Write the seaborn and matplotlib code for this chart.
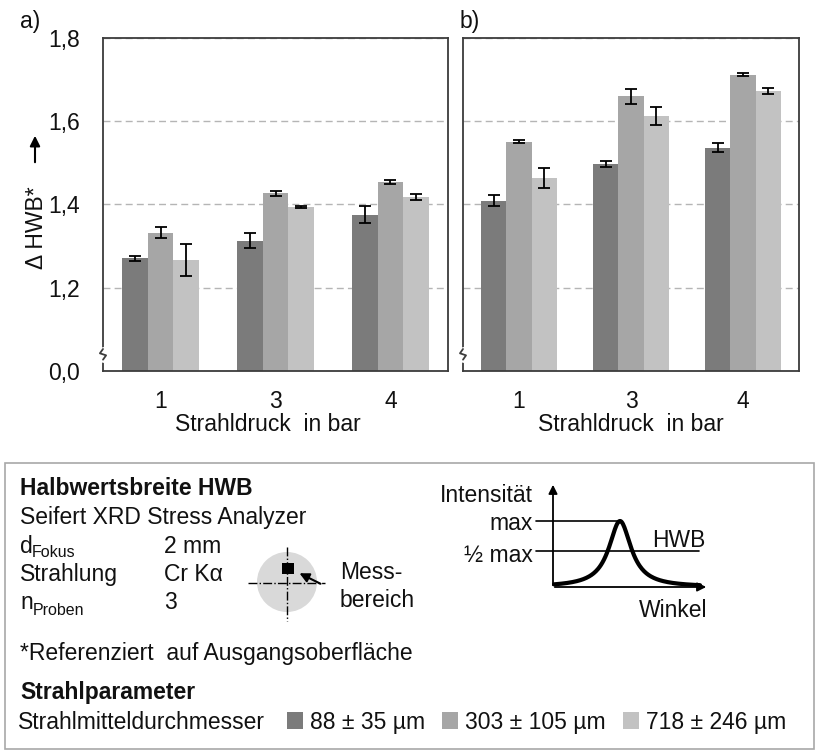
import numpy as np
import pandas as pd
import matplotlib
matplotlib.use("Agg")
import matplotlib.pyplot as plt
from matplotlib.patches import Rectangle, Circle
import seaborn as sns

# ---------------- data ----------------
pressures = ["1", "3", "4"]
diameters = ["88 ± 35 µm", "303 ± 105 µm", "718 ± 246 µm"]

a_88 = [1.270, 1.313, 1.375]
a_303 = [1.332, 1.426, 1.454]
a_718 = [1.266, 1.393, 1.418]
a_88_err = [0.007, 0.017, 0.020]
a_303_err = [0.0125, 0.0056, 0.005]
a_718_err = [0.038, 0.002, 0.0072]

b_88 = [1.408, 1.496, 1.536]
b_303 = [1.550, 1.659, 1.711]
b_718 = [1.463, 1.612, 1.671]
b_88_err = [0.013, 0.007, 0.011]
b_303_err = [0.003, 0.018, 0.004]
b_718_err = [0.024, 0.022, 0.007]

y_ticks = [1.0, 1.2, 1.4, 1.6, 1.8]
y_tick_labels = ["0,0", "1,2", "1,4", "1,6", "1,8"]

colors = ["#7b7b7b", "#a6a6a6", "#c2c2c2"]

# ---------------- style ----------------
sns.set_theme(style="white")
plt.rcParams["font.family"] = ["Liberation Sans", "DejaVu Sans"]
FS = 16.5
TXT = "#111111"
SPINE = "#3c3c3c"
W, H = 817, 752

fig = plt.figure(figsize=(W / 100, H / 100), dpi=100)

# overlay in pixel coordinates for annotations
ov = fig.add_axes([0, 0, 1, 1], zorder=0)
ov.set_xlim(0, W)
ov.set_ylim(H, 0)
ov.axis("off")


def px_axes(left, right, top, bottom):
    return [left / W, 1 - bottom / H, (right - left) / W, (bottom - top) / H]


def make_panel(rect, vals, errs, show_ylabels):
    ax = fig.add_axes(rect, zorder=2)
    rows = []
    for d, v in zip(diameters, vals):
        for p, val in zip(pressures, v):
            rows.append({"Strahldruck": p, "Durchmesser": d, "HWB": val})
    df = pd.DataFrame(rows)
    sns.barplot(data=df, x="Strahldruck", y="HWB", hue="Durchmesser",
                order=pressures, hue_order=diameters, palette=colors,
                width=0.67, errorbar=None, saturation=1, ax=ax,
                linewidth=0)
    for cont, v, e in zip(ax.containers, vals, errs):
        xs = [p.get_x() + p.get_width() / 2 for p in cont.patches]
        ax.errorbar(xs, v, yerr=e, fmt="none", ecolor="black",
                    elinewidth=1.3, capsize=4.5, capthick=1.3, zorder=4)
    ax.set_xlim(-0.5, 2.5)
    ax.set_ylim(1.0, 1.8)
    ax.set_yticks(y_ticks)
    if show_ylabels:
        ax.set_yticklabels(y_tick_labels)
    else:
        ax.set_yticklabels([])
    ax.tick_params(axis="y", length=0, pad=16.5, labelsize=FS, labelcolor=TXT)
    ax.tick_params(axis="x", length=0, pad=14, labelsize=FS, labelcolor=TXT)
    ax.set_axisbelow(True)
    ax.yaxis.grid(True, color="#b5b5b5", linestyle=(0, (5, 3)), linewidth=1)
    ax.xaxis.grid(False)
    for s in ax.spines.values():
        s.set_visible(True)
        s.set_color(SPINE)
        s.set_linewidth(1.3)
    ax.set_xlabel("Strahldruck  in bar", fontsize=FS, color=TXT)
    ax.xaxis.set_label_coords(0.5, -0.125)
    ax.set_ylabel("")
    # axis break mark
    ax.plot([0, 0], [0.034, 0.066], color="white", lw=3.5,
            transform=ax.transAxes, clip_on=False, zorder=5)
    ax.plot([0, -0.009, 0.009, 0], [0.066, 0.053, 0.047, 0.034], color=SPINE,
            lw=1.3, transform=ax.transAxes, clip_on=False, zorder=6)
    return ax


ax_a = make_panel(px_axes(103, 448, 37.5, 371), [a_88, a_303, a_718],
                  [a_88_err, a_303_err, a_718_err], True)
ax_b = make_panel(px_axes(463, 799, 37.5, 371), [b_88, b_303, b_718],
                  [b_88_err, b_303_err, b_718_err], False)
ax_a.xaxis.set_label_coords(0.478, -0.125)

ax_a.set_ylabel("Δ HWB*", fontsize=FS, color=TXT, va="center")
ax_a.yaxis.set_label_coords((36 - 103) / 345, (371 - 228) / 333.5)
# arrow of the y label
ov.annotate("", xy=(35, 133), xytext=(35, 165),
            arrowprops=dict(arrowstyle="-|>", color="black", lw=1.5, mutation_scale=15))

leg = ax_a.get_legend()
handles = leg.legend_handles
labels = [t.get_text() for t in leg.get_texts()]
leg.remove()
ax_b.get_legend().remove()

# panel letters
ov.text(20, 28, "a)", fontsize=FS, color=TXT, va="baseline")
ov.text(460, 28, "b)", fontsize=FS, color=TXT, va="baseline")

# ---------------- info box ----------------
ov.add_patch(Rectangle((5, 463), 809, 286, fill=False, edgecolor="#a8a8a8", lw=1.2))

ov.text(20, 495, "Halbwertsbreite HWB", fontsize=FS, fontweight="bold", color=TXT, va="baseline")
ov.text(20, 524, "Seifert XRD Stress Analyzer", fontsize=FS, color=TXT, va="baseline")
ov.text(20, 553, "d", fontsize=FS, color=TXT, va="baseline")
ov.text(32, 557, "Fokus", fontsize=11.5, color=TXT, va="baseline")
ov.text(164, 553, "2 mm", fontsize=FS, color=TXT, va="baseline")
ov.text(20, 581, "Strahlung", fontsize=FS, color=TXT, va="baseline")
ov.text(164, 581, "Cr Kα", fontsize=FS, color=TXT, va="baseline")
ov.text(20, 609, "n", fontsize=FS, color=TXT, va="baseline")
ov.text(33, 615, "Proben", fontsize=11.5, color=TXT, va="baseline")
ov.text(164, 609, "3", fontsize=FS, color=TXT, va="baseline")

# measurement spot sketch
ov.add_patch(Circle((287, 582), 30, facecolor="#d9d9d9", edgecolor="none"))
ov.plot([248, 325], [583, 583], color="black", lw=1, linestyle="-.")
ov.plot([287, 287], [547, 621], color="black", lw=1, linestyle="-.")
ov.add_patch(Rectangle((282, 563), 12, 11, facecolor="black", edgecolor="none"))
ov.annotate("", xy=(297, 572), xytext=(323, 585),
            arrowprops=dict(arrowstyle="-|>", color="black", lw=1.5, mutation_scale=14))
ov.text(340, 579, "Mess-", fontsize=FS, color=TXT, va="baseline")
ov.text(340, 607, "bereich", fontsize=FS, color=TXT, va="baseline")

# peak sketch
ov.annotate("", xy=(553, 482), xytext=(553, 588),
            arrowprops=dict(arrowstyle="-|>", color="black", lw=1.3, mutation_scale=13))
ov.annotate("", xy=(709, 587), xytext=(552, 587),
            arrowprops=dict(arrowstyle="-|>", color="black", lw=1.3, mutation_scale=13))
ov.plot([536, 620], [521, 521], color="black", lw=1.2)
ov.plot([536, 699], [551, 551], color="black", lw=1.2)
xc = np.linspace(554, 700, 200)
yc = 587 - 66 / (1 + ((xc - 620) / 13.5) ** 2)
ov.plot(xc, yc, color="black", lw=3, solid_capstyle="round")
ov.text(533, 502, "Intensität", fontsize=FS, color=TXT, va="baseline", ha="right")
ov.text(533, 530, "max", fontsize=FS, color=TXT, va="baseline", ha="right")
ov.text(533, 562, "½ max", fontsize=FS, color=TXT, va="baseline", ha="right")
ov.text(652, 547, "HWB", fontsize=FS, color=TXT, va="baseline")
ov.text(707, 617, "Winkel", fontsize=FS, color=TXT, va="baseline", ha="right")

ov.text(20, 660, "*Referenziert  auf Ausgangsoberfläche", fontsize=FS, color=TXT, va="baseline")
ov.text(20, 699, "Strahlparameter", fontsize=FS, fontweight="bold", color=TXT, va="baseline")
ov.text(18, 729, "Strahlmitteldurchmesser", fontsize=FS, color=TXT, va="baseline")

fig.legend(handles, labels, ncol=3, loc="center left",
           bbox_to_anchor=(287 / W, 1 - 722 / H), frameon=False,
           fontsize=FS, handlelength=0.7, handleheight=0.7,
           handletextpad=0.3, columnspacing=0.75, borderpad=0,
           borderaxespad=0, labelcolor=TXT)

fig.savefig("out.png", dpi=100)
